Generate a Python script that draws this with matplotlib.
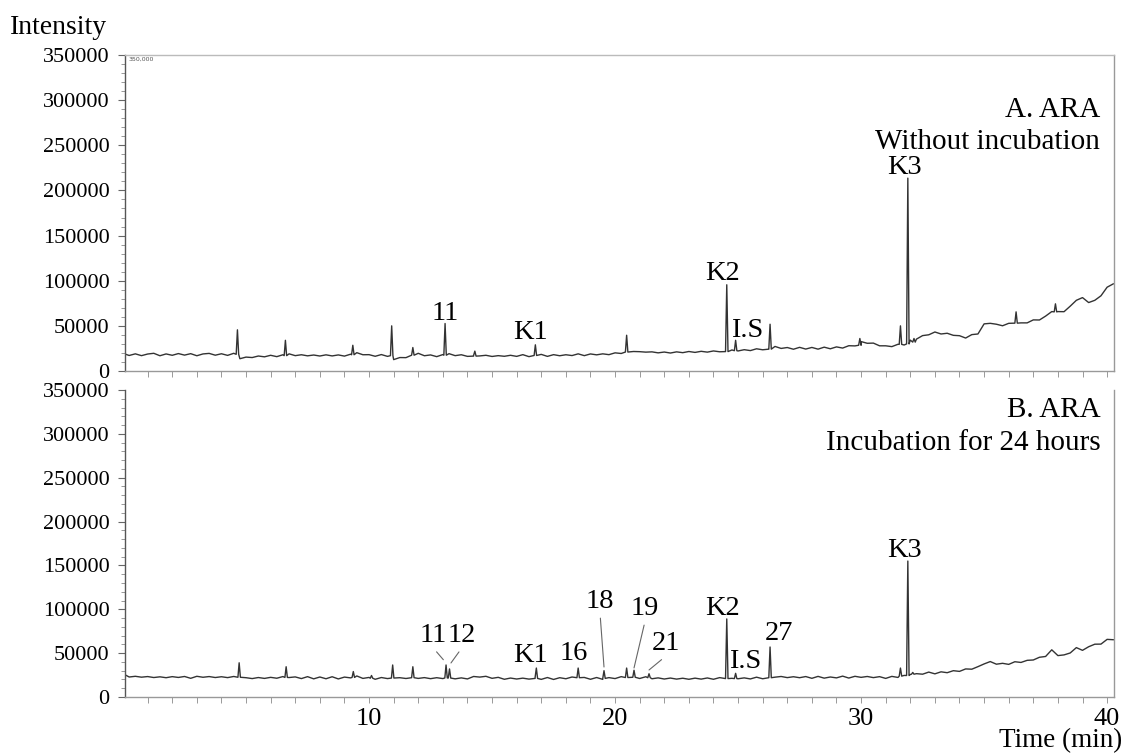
import numpy as np
import matplotlib
matplotlib.use('Agg')
import matplotlib.pyplot as plt
from matplotlib.ticker import MultipleLocator, FixedLocator, NullFormatter

plt.rcParams['font.family'] = ['Liberation Serif', 'DejaVu Serif']

# retention time grid for the baseline readings (min)
step = 0.25
times = np.arange(0, 40.25 + step / 2, step)

# A. ARA without incubation - baseline (x1000 counts)
base_a = [
    19.5, 17.2, 19.0, 17.0, 18.8, 19.6, 16.9, 18.9,
    17.4, 19.3, 17.6, 19.2, 16.9, 18.9, 19.5, 17.5,
    19.1, 17.3, 19.6, 13.6, 15.4, 14.9, 16.6, 15.7,
    17.4, 15.9, 18.0, 19.0, 17.0, 18.0, 16.8, 17.7,
    16.6, 17.9, 16.7, 17.8, 16.5, 18.6, 20.3, 18.0,
    18.1, 16.3, 18.2, 16.2, 12.6, 14.9, 14.8, 18.0,
    19.6, 16.9, 17.8, 15.9, 18.2, 19.2, 17.0, 18.0,
    16.2, 17.3, 16.7, 17.4, 16.1, 17.0, 16.3, 17.4,
    16.2, 18.1, 15.9, 17.8, 18.4, 16.2, 18.1, 16.9,
    18.0, 17.1, 19.0, 17.0, 18.9, 17.9, 19.0, 18.1,
    20.1, 19.4, 22.2, 21.6, 21.4, 20.9, 21.2, 20.1,
    21.0, 19.9, 21.2, 20.3, 21.6, 20.6, 21.8, 20.9,
    22.2, 21.3, 21.8, 23.3, 22.2, 23.6, 22.6, 24.6,
    23.5, 25.0, 27.2, 25.0, 26.0, 24.1, 26.2, 24.3,
    26.1, 24.2, 26.4, 24.6, 26.7, 25.4, 28.0, 27.8,
    32.6, 30.7, 30.9, 27.9, 27.9, 27.0, 29.6, 28.8,
    34.2, 35.3, 39.2, 40.1, 43.2, 41.0, 41.8, 39.5,
    39.1, 36.5, 40.3, 41.0, 52.2, 52.8, 51.8, 50.1,
    52.8, 52.2, 53.3, 53.3, 56.6, 56.5, 60.8, 65.8,
    65.8, 65.7, 71.8, 78.3, 81.3, 75.8, 78.3, 83.3,
    92.8, 96.5,
]

# B. ARA incubated 24 h - baseline (x1000 counts)
base_b = [
    26.5, 22.8, 23.6, 22.6, 23.3, 22.2, 23.0, 22.0,
    23.2, 22.3, 23.4, 21.3, 23.6, 22.5, 23.3, 22.2,
    23.1, 22.1, 23.4, 21.2, 22.0, 21.0, 22.2, 21.2,
    22.4, 21.4, 23.3, 22.2, 22.9, 21.0, 23.2, 20.7,
    22.8, 20.8, 23.1, 20.6, 22.7, 21.8, 24.0, 21.2,
    22.3, 20.2, 22.2, 21.0, 19.7, 22.0, 21.1, 23.2,
    21.2, 22.1, 20.9, 22.0, 21.0, 22.8, 20.7, 21.8,
    20.6, 23.4, 22.7, 23.6, 21.3, 22.4, 20.2, 21.6,
    20.5, 21.5, 20.4, 22.3, 20.1, 22.2, 20.0, 22.0,
    20.8, 22.8, 22.0, 22.3, 20.2, 22.2, 20.1, 22.1,
    21.0, 23.2, 22.2, 23.4, 21.1, 23.1, 20.8, 21.8,
    20.5, 21.6, 20.4, 21.4, 20.2, 21.5, 20.4, 21.7,
    20.2, 22.1, 20.0, 21.3, 20.8, 21.8, 20.6, 22.6,
    20.8, 22.8, 22.6, 23.4, 22.1, 23.1, 22.0, 23.3,
    21.3, 23.5, 21.5, 22.8, 21.8, 23.8, 21.6, 23.6,
    22.4, 23.4, 22.1, 23.2, 21.2, 23.5, 22.3, 24.6,
    25.7, 26.6, 26.0, 28.4, 26.4, 28.7, 27.7, 30.0,
    29.2, 32.0, 31.7, 34.6, 37.7, 40.4, 37.4, 38.4,
    37.2, 40.2, 39.4, 41.8, 42.2, 45.3, 46.2, 53.8,
    47.2, 48.0, 50.2, 56.3, 53.2, 57.3, 60.2, 60.3,
    65.7, 65.3,
]

# peaks: retention time (min), apex (x1000), local base (x1000)
peak_t_a = [4.65, 6.60, 9.34, 10.92, 11.78, 13.09, 14.30, 16.76, 20.47,
            24.54, 24.90, 26.30, 29.95, 31.60, 31.90, 32.15, 36.30, 37.90]
peak_h_a = [45.6, 34.0, 28.5, 50.0, 26.0, 52.6, 22.0, 29.0, 39.6,
            95.5, 34.0, 51.8, 36.0, 50.0, 213.6, 36.0, 65.5, 74.4]
peak_b_a = [18.5, 17.0, 18.0, 17.0, 17.5, 17.5, 16.5, 17.2, 21.0,
            21.5, 22.5, 24.2, 28.5, 29.5, 30.0, 32.0, 53.0, 65.5]

peak_t_b = [4.72, 6.63, 9.36, 10.10, 10.96, 11.78, 13.13, 13.27, 16.80,
            18.50, 19.55, 20.47, 20.77, 21.38, 24.54, 24.90, 26.30,
            31.60, 31.90, 32.10]
peak_h_b = [39.0, 34.5, 29.0, 24.5, 36.5, 34.5, 36.5, 32.0, 33.0,
            33.0, 30.0, 33.0, 30.5, 26.5, 89.0, 27.0, 57.0,
            33.0, 155.0, 28.0]
peak_b_b = [22.5, 22.3, 22.3, 21.4, 21.6, 22.0, 21.7, 21.6, 21.2,
            22.0, 21.2, 22.2, 22.5, 22.0, 21.0, 21.0, 22.0,
            23.8, 24.5, 26.0]

# peak labels: text, label x (min), label baseline (counts)
labels_a = [("11", 13.09, 56000), ("K1", 16.55, 35500), ("K2", 24.35, 101000),
            ("I.S", 25.37, 38000), ("K3", 31.75, 218000)]
labels_b = [("K1", 16.55, 39900), ("16", 18.33, 42200), ("K2", 24.35, 93500),
            ("I.S", 25.28, 33100), ("27", 26.67, 65000), ("K3", 31.75, 160000)]
# labels with a leader line: text, label x, label y, tip x, tip y
leaders_b = [("11", 12.61, 62700, 13.02, 42500),
             ("12", 13.77, 62700, 13.33, 38800),
             ("18", 19.39, 101500, 19.55, 34200),
             ("19", 21.22, 93500, 20.77, 33100),
             ("21", 22.07, 53600, 21.38, 30800)]


def build_trace(t, base, pt, ph, pb, hw=0.05):
    t = np.asarray(t)
    base = np.asarray(base) * 1000
    keep = np.array([np.min(np.abs(np.asarray(pt) - x)) > hw for x in t])
    pts = list(zip(t[keep], base[keep]))
    for x, h, b in zip(pt, ph, pb):
        pts += [(x - hw, b * 1000), (x, h * 1000), (x + hw, b * 1000)]
    pts.sort()
    arr = np.array(pts)
    return arr[:, 0], arr[:, 1]


fig = plt.figure(figsize=(11.29, 7.56), dpi=100)
ax1 = fig.add_axes([125 / 1129, 1 - 371 / 756, 989 / 1129, 316 / 756])
ax2 = fig.add_axes([125 / 1129, 1 - 697 / 756, 989 / 1129, 307 / 756])

tr_color = "#333333"
xa, ya = build_trace(times, base_a, peak_t_a, peak_h_a, peak_b_a)
xb, yb = build_trace(times, base_b, peak_t_b, peak_h_b, peak_b_b)
ax1.plot(xa, ya, color=tr_color, lw=1.0)
ax2.plot(xb, yb, color=tr_color, lw=1.0)

for ax in ax1, ax2:
    ax.set_xlim(0.08, 40.28)
    ax.set_ylim(0, 350000)
    ax.yaxis.set_major_locator(MultipleLocator(50000))
    ax.yaxis.set_minor_locator(MultipleLocator(10000))
    ax.xaxis.set_major_locator(FixedLocator([10, 20, 30, 40]))
    ax.xaxis.set_minor_locator(MultipleLocator(1))
    ax.tick_params(axis="y", which="major", direction="out", length=5, width=0.8,
                   color="#666", labelsize=16, pad=6)
    ax.tick_params(axis="y", which="minor", direction="out", length=3, width=0.6,
                   color="#888")
    ax.tick_params(axis="x", which="both", direction="out", length=4, width=0.7,
                   color="#999", labelsize=19, pad=4)
    ax.spines["left"].set_color("#555")
    ax.spines["bottom"].set_color("#999")
    ax.spines["right"].set_color("#999")
    for s in ax.spines.values():
        s.set_linewidth(1.0)

ax1.spines["top"].set_color("#bbb")
ax2.spines["top"].set_visible(False)
ax1.xaxis.set_major_formatter(NullFormatter())

lab_kw = dict(ha="center", va="baseline", fontsize=20.5)
for txt, x, y in labels_a:
    ax1.text(x, y, txt, **lab_kw)
for txt, x, y in labels_b:
    ax2.text(x, y, txt, **lab_kw)
for txt, x, y, tx, ty in leaders_b:
    ax2.annotate(txt, xy=(tx, ty), xytext=(x, y), ha="center", va="baseline",
                 fontsize=20.5,
                 arrowprops=dict(arrowstyle="-", color="#666", lw=0.8,
                                 shrinkA=1, shrinkB=0, relpos=(0.5, 0)))

ax1.text(0.986, 0.826, "A. ARA", transform=ax1.transAxes, ha="right", va="center", fontsize=21)
ax1.text(0.986, 0.725, "Without incubation", transform=ax1.transAxes, ha="right", va="center", fontsize=21)
ax2.text(0.986, 0.935, "B. ARA", transform=ax2.transAxes, ha="right", va="center", fontsize=21)
ax2.text(0.986, 0.827, "Incubation for 24 hours", transform=ax2.transAxes, ha="right", va="center", fontsize=21)

ax1.text(0.004, 0.993, "350,000", transform=ax1.transAxes, ha="left", va="top",
         fontsize=4.5, color="#555", family="DejaVu Sans")

fig.text(0.009, 1 - 27 / 756, "Intensity", ha="left", va="center", fontsize=20)
fig.text(0.994, 1 - 741 / 756, "Time (min)", ha="right", va="center", fontsize=19.5)

plt.savefig("out.png", dpi=100)
